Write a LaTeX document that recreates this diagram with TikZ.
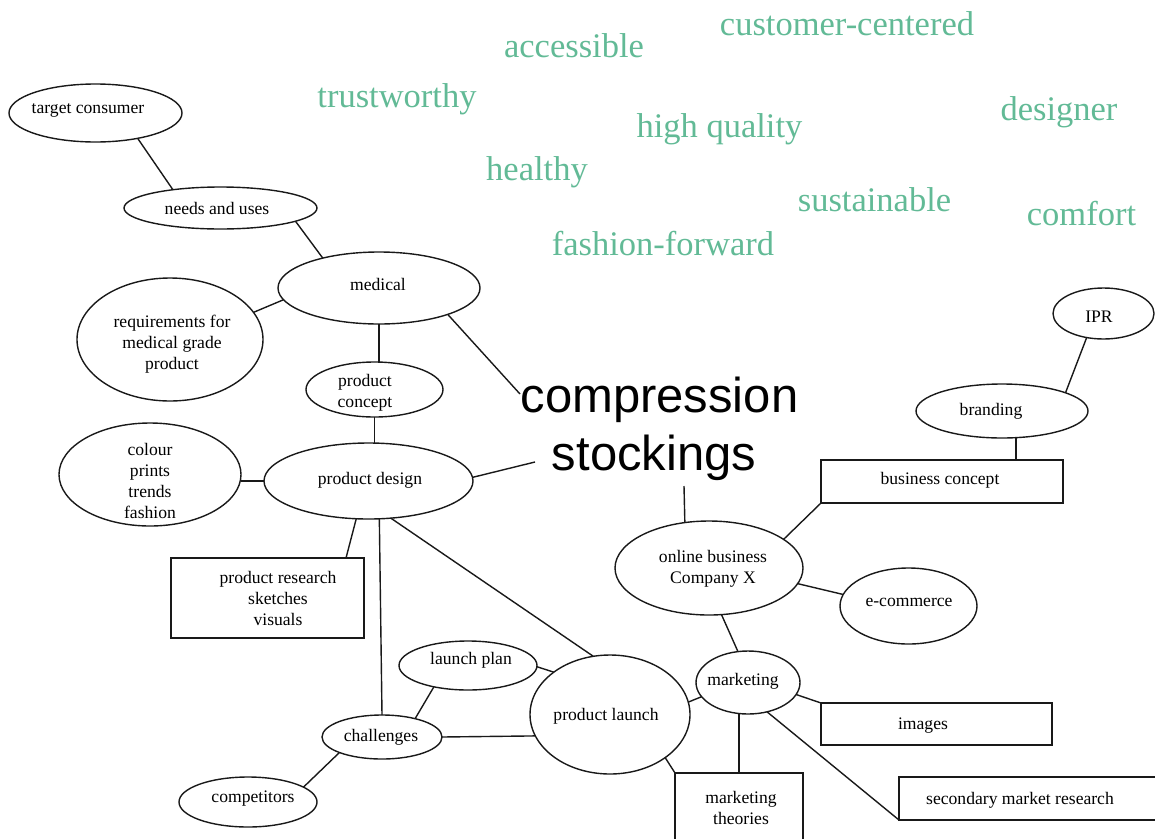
\documentclass[tikz,border=0pt]{standalone}
\usepackage{fontspec}
\setmainfont{Liberation Serif}
\newfontfamily\titlefont{Liberation Sans}
\usetikzlibrary{shapes.geometric,calc}
\definecolor{kwgreen}{RGB}{98,186,150}
\begin{document}
\begin{tikzpicture}[x=1pt,y=-1pt,
  shp/.style={draw=black!90, line width=1.4pt, inner sep=0pt, outer sep=0pt},
  ell/.style={shp, ellipse},
  box/.style={shp, rectangle},
  lbl/.style={font=\fontsize{17.6}{21}\selectfont, align=center, inner sep=0pt, yshift=-2.5pt},
  one/.style={lbl, text height=12.3pt, text depth=4.4pt},
  kw/.style={font=\fontsize{34.5}{34.5}\selectfont, text=kwgreen, anchor=base, inner sep=0pt},
  ttl/.style={font=\titlefont\fontsize{49}{58}\selectfont, anchor=base, inner sep=0pt},
  con/.style={draw=black!90, line width=1.4pt}]
\useasboundingbox (0,0) rectangle (1155,838);

% keywords
\node[kw] (k1) at (847,35) {customer-centered};
\node[kw] (k2) at (574,57) {accessible};
\node[kw] (k3) at (397,107) {trustworthy};
\node[kw] (k4) at (719.5,137) {high quality};
\node[kw] (k5) at (1059,120) {designer};
\node[kw] (k6) at (537,180) {healthy};
\node[kw] (k7) at (874.5,211) {sustainable};
\node[kw] (k8) at (1081.5,225) {comfort};
\node[kw] (k9) at (663,255) {fashion-forward};

% title
\node[ttl] (cs1) at (659.5,412) {compression};
\node[ttl] (cs2) at (654,470) {stockings};
\coordinate (t1) at (520,394);
\coordinate (t2) at (535,462);
\coordinate (t3) at (684,486);

% ellipses
\node[ell, minimum width=173pt, minimum height=58pt] (tc) at (95.5,113) {};
\node[ell, minimum width=193pt, minimum height=42pt] (nu) at (220.5,208) {};
\node[ell, minimum width=202pt, minimum height=72pt] (med) at (379,288) {};
\node[ell, minimum width=186pt, minimum height=123pt] (req) at (170,339.5) {};
\node[ell, minimum width=137pt, minimum height=55pt] (pc) at (374.5,389.5) {};
\node[ell, minimum width=182pt, minimum height=103pt] (col) at (150,474.5) {};
\node[ell, minimum width=209pt, minimum height=76pt] (pd) at (368.5,481) {};
\node[ell, minimum width=138pt, minimum height=49pt] (lp) at (468,665.5) {};
\node[ell, minimum width=120pt, minimum height=44pt] (ch) at (382,737) {};
\node[ell, minimum width=138pt, minimum height=50pt] (comp) at (248,802) {};
\node[ell, minimum width=160pt, minimum height=119pt] (pl) at (610,714.5) {};
\node[ell, minimum width=104pt, minimum height=63pt] (mk) at (748,682.5) {};
\node[ell, minimum width=188pt, minimum height=94pt] (ob) at (709,568) {};
\node[ell, minimum width=137pt, minimum height=76pt] (ec) at (908.5,606) {};
\node[ell, minimum width=172pt, minimum height=54pt] (br) at (1002,411) {};
\node[ell, minimum width=101pt, minimum height=51pt] (ipr) at (1103.5,313.5) {};

% boxes
\node[box, minimum width=193pt, minimum height=80pt] (pr) at (267.5,598) {};
\node[box, minimum width=242pt, minimum height=43pt] (bc) at (942,481.5) {};
\node[box, minimum width=231pt, minimum height=42pt] (img) at (936.5,724) {};
\node[box, minimum width=128pt, minimum height=80pt] (mt) at (739,813) {};
\node[box, minimum width=280pt, minimum height=43pt] (smr) at (1039,798.5) {};

% labels
\node[one] (tct) at (88,107) {target consumer};
\node[one] (nut) at (217,208) {needs and uses};
\node[one] (medt) at (378,284) {medical};
\node[lbl] (reqt) at (172,342) {requirements for\\medical grade\\product};
\node[lbl] (pct) at (365,390) {product\\concept};
\node[lbl] (colt) at (150,478) {colour\\prints\\trends\\fashion};
\node[one] (pdt) at (370,478) {product design};
\node[lbl] (prt) at (278,596) {product research\\sketches\\visuals};
\node[one] (lpt) at (471,658) {launch plan};
\node[one] (cht) at (381,735) {challenges};
\node[one] (compt) at (253,796) {competitors};
\node[one] (plt) at (606,714) {product launch};
\node[one] (mkt) at (743,679) {marketing};
\node[lbl] (obt) at (713,566) {online business\\Company X};
\node[one] (ect) at (909,600) {e-commerce};
\node[one] (brt) at (991,409) {branding};
\node[one] (iprt) at (1099,316) {IPR};
\node[one] (bct) at (940,478) {business concept};
\node[one] (imgt) at (923,723) {images};
\node[lbl] (mtt) at (741,805) {marketing\\theories};
\node[one] (smrt) at (1020,798) {secondary market research};

% connectors
\draw[con] (tc.-31.5) -- (nu.159.4);
\draw[con] (nu.-10.2) -- (med.152.7);
\draw[con] (med.187.8) -- (req.18.2);
\draw[con] (med.south) -- (med.south |- pc.north);
\draw[con] (pc.south) -- (pc.south |- pd.north);
\draw[con] (med.-21.7) -- (t1);
\draw[con] (pd.2.1) -- (t2);
\draw[con] (pd.west) -- (pd.west -| col.east);
\draw[con] (pd.-108.6) -- (pr.27.6);
\draw[con] (pd.-74.6) -- (ch.north);
\draw[con] (pd.-59.5) -- (pl.106.1);
\draw[con] (lp.-1.7) -- (pl.143.4);
\draw[con] (ch.east) -- (pl.196.5);
\draw[con] (ch.29.1) -- (lp.-148.2);
\draw[con] (ch.-160.8) -- (comp.15.3);
\draw[con] (ob.118.9) -- (t3);
\draw[con] (ob.21.8) -- (bc.south west);
\draw[con] (ob.-10.5) -- (ec.170.3);
\draw[con] (ob.-75.4) -- (mk.108.2);
\draw[con] (mk.197.9) -- (pl.9.1);
\draw[con] (mk.-14) -- (img.north west);
\draw[con] (mk.-106.2) -- (mk.-106.2 |- mt.north);
\draw[con] (mk.-57) -- (smr.south west);
\draw[con] (pl.-38.8) -- (mt.north west);
\draw[con] (ipr.-125.3) -- (br.16.8);
\draw[con] (br.-62.2) -- (br.-62.2 |- bc.north);
\end{tikzpicture}
\end{document}
